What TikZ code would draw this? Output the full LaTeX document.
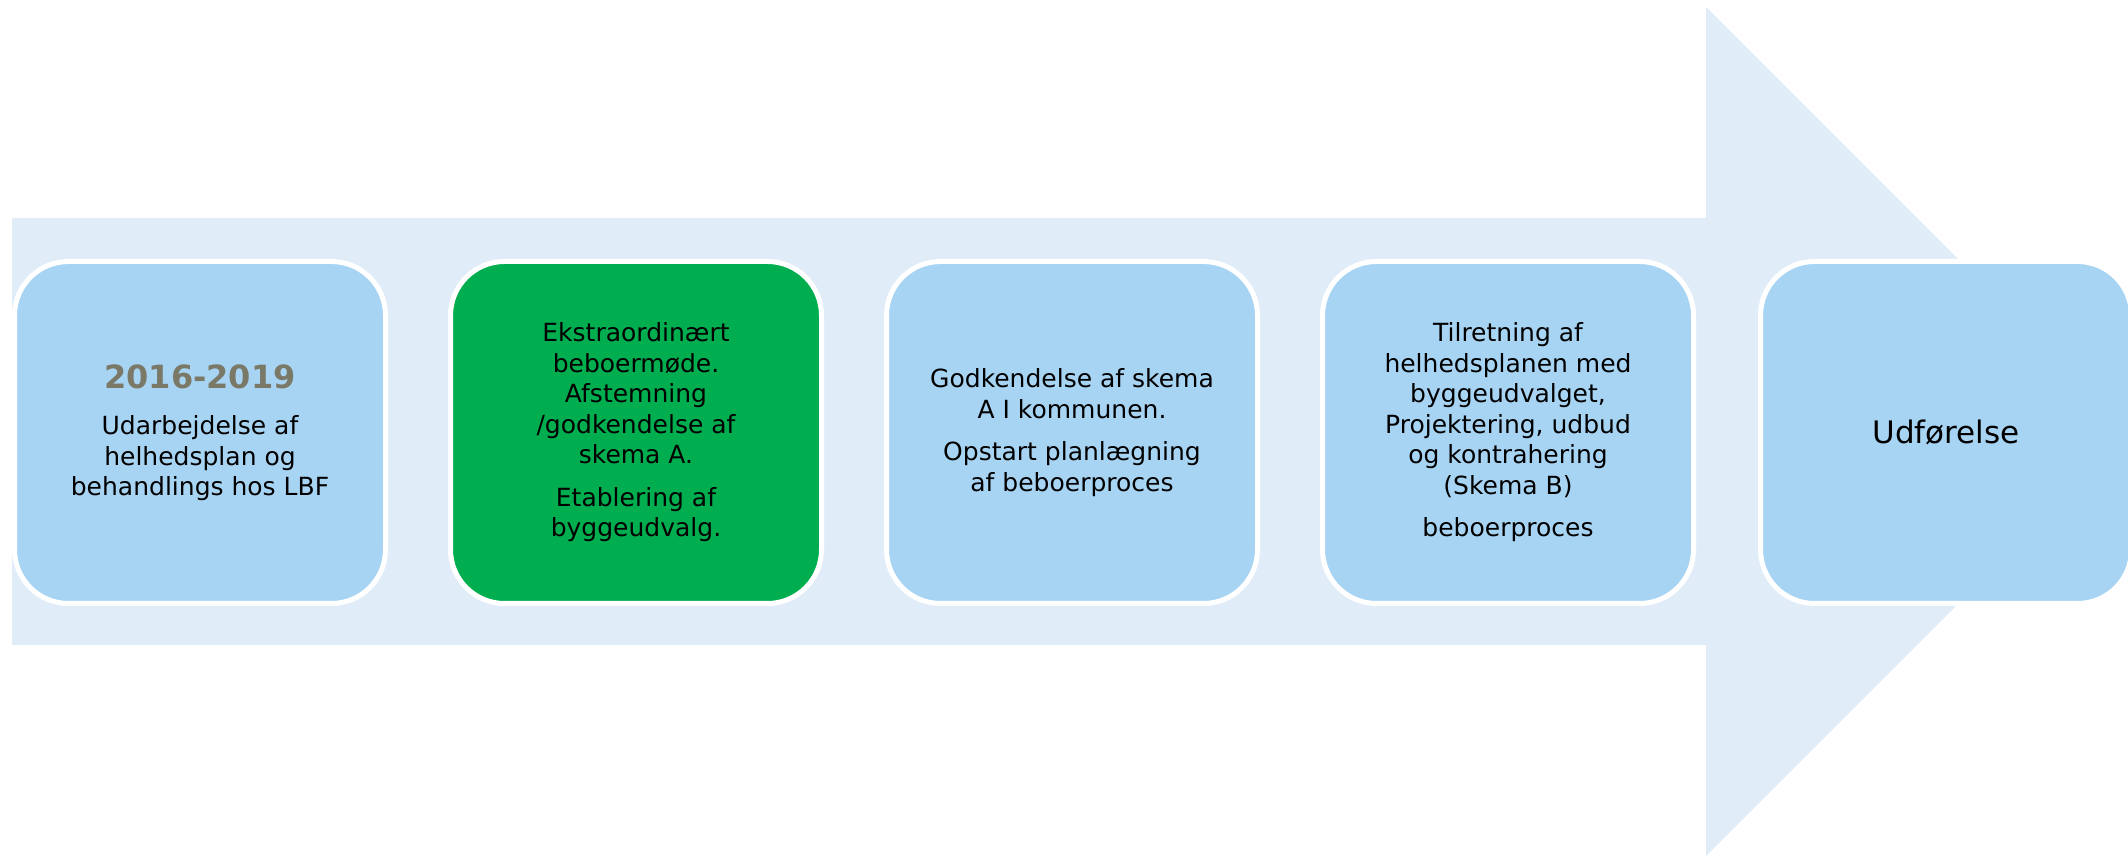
\documentclass[tikz,border=0pt]{standalone}
\usepackage{fontspec}
\setmainfont{DejaVu Sans}
\usetikzlibrary{shapes.geometric, arrows}
\definecolor{pilblaa}{HTML}{E0EDF9}
\definecolor{boksblaa}{HTML}{A8D4F4}
\definecolor{groen}{HTML}{00AE4F}
\definecolor{aarstal}{HTML}{7A7866}
\tikzstyle{fase} = [rectangle, rounded corners=27pt, minimum width=185.5pt, minimum height=171pt, inner sep=0pt, align=center, draw=white, line width=2.5pt, fill=boksblaa, text=black, font=\fontsize{12.5pt}{15.25pt}\selectfont]
\tikzstyle{aktiv} = [fase, fill=groen]
\begin{document}
\begin{tikzpicture}[x=0.5pt,y=0.5pt]
\clip (0,0) rectangle (2128,856);
% stor pil bag felterne
\fill[pilblaa] (12,211)--(1706,211)--(1706,0)--(2130.5,424.5)--(1706,849)--(1706,638)--(12,638)--cycle;
\node[fase] (plan) at (200,423.5) {{\fontsize{16pt}{19pt}\selectfont\bfseries\color{aarstal}2016-2019}\\[8pt]
  Udarbejdelse af\\ helhedsplan og\\ behandlings hos LBF};
\node[aktiv] (afstemning) at (636,423.5) {Ekstraordinært\\ beboermøde.\\ Afstemning\\ /godkendelse af\\ skema A.\\[6pt]
  Etablering af\\ byggeudvalg.};
\node[fase] (kommune) at (1072,423.5) {Godkendelse af skema\\ A I kommunen.\\[6pt]
  Opstart planlægning\\ af beboerproces};
\node[fase] (projekt) at (1508,423.5) {Tilretning af\\ helhedsplanen med\\ byggeudvalget,\\ Projektering, udbud\\ og kontrahering\\ (Skema B)\\[6pt]
  beboerproces};
\node[fase, font=\fontsize{15.5pt}{18pt}\selectfont] (udfoer) at (1946,423.5) {Udførelse};
\end{tikzpicture}
\end{document}
